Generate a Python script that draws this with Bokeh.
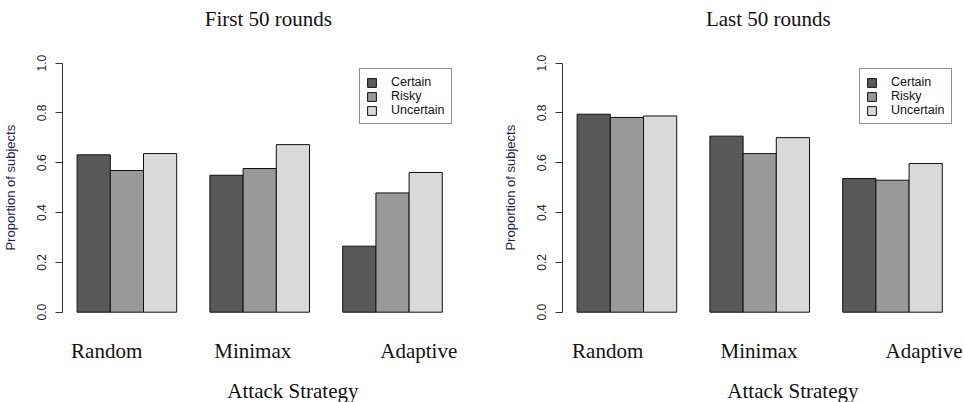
from bokeh.plotting import figure
from bokeh.layouts import row
from bokeh.models import (Range1d, FixedTicker, NumeralTickFormatter, CustomJSTickFormatter,
                          Legend, LegendItem, ColumnDataSource, LinearAxis)
from bokeh.core.properties import value
from bokeh.embed import file_html
from bokeh.resources import INLINE

# ---------------- data ----------------
strategies = ["Random", "Minimax", "Adaptive"]
conditions = ["Certain", "Risky", "Uncertain"]

first_certain = [0.632, 0.550, 0.265]
first_risky = [0.569, 0.577, 0.479]
first_uncertain = [0.637, 0.673, 0.561]

last_certain = [0.795, 0.707, 0.537]
last_risky = [0.782, 0.637, 0.530]
last_uncertain = [0.788, 0.701, 0.597]

y_ticks = [0.0, 0.2, 0.4, 0.6, 0.8, 1.0]
panel_titles = ["First 50 rounds", "Last 50 rounds"]
x_title = "Attack Strategy"
y_title = "Proportion of subjects"

# ---------------- style / layout ----------------
bar_colors = ["#595959", "#999999", "#d9d9d9"]
SERIF = "Liberation Serif"
SANS = "Liberation Sans"
FIG_W, FIG_H = 482, 402
PX_X = 33.2          # pixels per bar unit
PX_Y = 249.0         # pixels per y unit
Y_BOTTOM = -0.3627   # data value at the bottom edge of the canvas
X_LEFT = 0.56        # data value at the y axis
# text anchor positions in data units
label_pos = [[1.89, 6.29, 11.29], [1.92, 6.48, 11.45]]
TITLE_X, TITLE_Y = 6.76, 1.178
CAT_Y = -0.154
XT_X, XT_Y = 7.5, -0.318


def make_panel(title, series, lab_x, border_left):
    frame_w = FIG_W - border_left
    p = figure(width=FIG_W, height=FIG_H,
               min_border_left=border_left, min_border_right=0,
               min_border_top=0, min_border_bottom=0,
               x_range=Range1d(X_LEFT, X_LEFT + frame_w / PX_X),
               y_range=Range1d(Y_BOTTOM, Y_BOTTOM + FIG_H / PX_Y),
               x_axis_location=None,
               output_backend="svg", toolbar_location=None, tools="")
    p.outline_line_color = None
    p.grid.visible = False
    p.background_fill_color = "white"
    p.border_fill_color = "white"

    items = []
    ngroups = len(strategies)
    nser = len(conditions)
    for s, (name, vals, col) in enumerate(zip(conditions, series, bar_colors)):
        xs = [1 + (nser + 1) * g + s + 0.5 for g in range(ngroups)]
        src = ColumnDataSource(dict(x=xs, top=vals))
        r = p.vbar(x="x", top="top", bottom=0, width=1, source=src,
                   fill_color=col, line_color="#111111", line_width=1)
        items.append(LegendItem(label=name, renderers=[r]))

    legend = Legend(items=items, location=(297, 278), margin=0, padding=6, spacing=0,
                    glyph_width=11, glyph_height=11, label_standoff=14, label_height=14,
                    label_text_font=SANS, label_text_font_size="12.5px",
                    label_text_color="#111111", border_line_color="#222222",
                    border_line_width=1, background_fill_color="white",
                    background_fill_alpha=1.0)
    p.add_layout(legend)

    # y axis
    ya = p.yaxis[0]
    ya.ticker = FixedTicker(ticks=y_ticks)
    ya.formatter = NumeralTickFormatter(format="0.0")
    ya.bounds = (0, 1)
    ya.major_tick_out = 7
    ya.major_tick_in = 0
    ya.minor_tick_line_color = None
    ya.major_label_orientation = "vertical"
    ya.major_label_standoff = 9
    ya.major_label_text_font = SANS
    ya.major_label_text_font_size = "12px"
    ya.major_label_text_color = "#222222"
    ya.axis_line_color = "#333333"
    ya.major_tick_line_color = "#333333"

    # y axis title, as a second axis carrying one label at mid-scale
    yt = LinearAxis(ticker=FixedTicker(ticks=[0.5]),
                    formatter=CustomJSTickFormatter(args=dict(t=y_title), code="return t;"),
                    axis_line_color=None, major_tick_line_color=None,
                    minor_tick_line_color=None, major_tick_out=0, major_tick_in=0,
                    major_label_orientation="vertical", major_label_standoff=16,
                    major_label_text_font=SANS, major_label_text_font_size="13px",
                    major_label_text_color="#1f1f50")
    p.add_layout(yt, "left")

    # category names, titles
    p.text(x=lab_x, y=[CAT_Y] * len(strategies), text=strategies,
           text_font=value(SERIF), text_font_size="21px", text_align="center",
           text_baseline="alphabetic", text_color="#111111")
    p.text(x=[TITLE_X], y=[TITLE_Y], text=[title],
           text_font=value(SERIF), text_font_size="21px", text_align="center",
           text_baseline="alphabetic", text_color="#111111")
    p.text(x=[XT_X], y=[XT_Y], text=[x_title],
           text_font=value(SERIF), text_font_size="21px", text_align="center",
           text_baseline="alphabetic", text_color="#111111")
    return p


p1 = make_panel(panel_titles[0], [first_certain, first_risky, first_uncertain],
                label_pos[0], 62)
p2 = make_panel(panel_titles[1], [last_certain, last_risky, last_uncertain],
                label_pos[1], 80)

layout = row(p1, p2)
open("out.html", "w").write(file_html(layout, INLINE))
